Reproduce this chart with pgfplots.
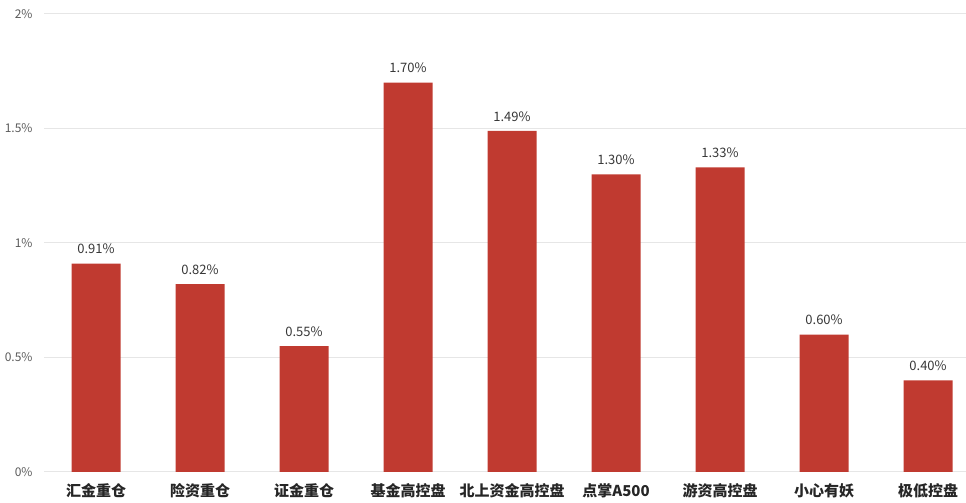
\documentclass[border=0pt]{standalone}
\usepackage{fontspec}
\setmainfont{Noto Sans CJK SC}
\usepackage{pgfplots}
\pgfplotsset{compat=1.18}
\definecolor{barred}{RGB}{192,58,48}
\definecolor{gridgray}{RGB}{230,230,230}
\definecolor{ticktext}{RGB}{90,90,90}
\definecolor{valtext}{RGB}{55,55,55}
\begin{document}
\begin{tikzpicture}
\begin{axis}[
    at={(0,0)}, anchor=south west,
    scale only axis,
    width=922pt, height=458pt,
    ybar, bar width=49pt,
    xmin=-0.5, xmax=8.365,
    ymin=0, ymax=2,
    ytick={0,0.5,1,1.5,2},
    yticklabel={\pgfmathprintnumber{\tick}\%},
    /pgf/number format/assume math mode=true,
    yticklabel style={font=\fontsize{12}{14}\selectfont, text=ticktext, xshift=-8pt},
    xtick=data,
    xticklabels={汇金重仓,险资重仓,证金重仓,基金高控盘,北上资金高控盘,点掌A500,游资高控盘,小心有妖,极低控盘},
    xticklabel style={font=\fontsize{15}{17}\selectfont\bfseries, text=black!85, yshift=-8pt},
    ymajorgrids, grid style={gridgray, line width=1pt},
    axis line style={draw=none},
    major tick length=0pt,
    nodes near coords={\pgfmathprintnumber[fixed,fixed zerofill,precision=2]{\pgfplotspointmeta}\%},
    nodes near coords style={font=\fontsize{13}{15}\selectfont, text=valtext, yshift=6pt},
    clip=false,
]
\addplot[fill=barred, draw=none] coordinates {
    (0,0.91) (1,0.82) (2,0.55) (3,1.70) (4,1.49) (5,1.30) (6,1.33) (7,0.60) (8,0.40)
};
\end{axis}
\pgfresetboundingbox
\path (-44pt,-31pt) rectangle (922pt,472pt);
\end{tikzpicture}
\end{document}
